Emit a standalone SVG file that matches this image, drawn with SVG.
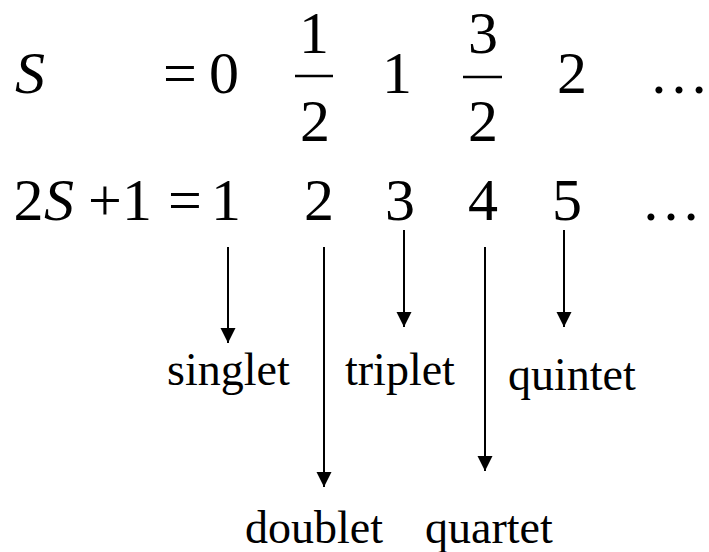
<svg xmlns="http://www.w3.org/2000/svg" width="709" height="552" viewBox="0 0 709 552">
<defs>
<style>
.m{font-size:60px;fill:#000;text-anchor:middle}
.i{font-style:italic}
.l{font-size:46px;fill:#000}
.bar{stroke:#000;stroke-width:2.5}
.c{stroke:#000;stroke-width:2;fill:none}
</style>
<marker id="ah" markerUnits="userSpaceOnUse" markerWidth="16" markerHeight="16" viewBox="0 0 16 16" refX="15" refY="8" orient="auto">
<path d="M0,0.5 L15,8 L0,15.5 Z" fill="#000"/>
</marker>
</defs>
<rect width="709" height="552" fill="#fff"/>
<g id="row1" font-family="'Liberation Serif', 'Times New Roman', serif">
<text class="m i" x="30" y="93">S</text>
<text class="m" x="180" y="93">=</text>
<text class="m" x="224" y="93">0</text>
<text class="m" x="314" y="53">1</text>
<line class="bar" x1="295" y1="76" x2="333" y2="76"/>
<text class="m" x="315" y="141">2</text>
<text class="m" x="397" y="93">1</text>
<text class="m" x="483" y="53">3</text>
<line class="bar" x1="463" y1="77" x2="502" y2="77"/>
<text class="m" x="483" y="141">2</text>
<text class="m" x="572" y="93">2</text>
<text class="m" x="679" y="93">…</text>
</g>
<g id="row2" font-family="'Liberation Serif', 'Times New Roman', serif">
<text class="m" x="28.5" y="220">2</text>
<text class="m i" x="59" y="220">S</text>
<text class="m" x="105" y="220">+</text>
<text class="m" x="137" y="220">1</text>
<text class="m" x="185" y="220">=</text>
<text class="m" x="226" y="220">1</text>
<text class="m" x="319" y="220">2</text>
<text class="m" x="400" y="220">3</text>
<text class="m" x="483" y="220">4</text>
<text class="m" x="567" y="220">5</text>
<text class="m" x="671" y="220">…</text>
</g>
<g id="connectors" marker-end="url(#ah)">
<line class="c" x1="228" y1="247" x2="228" y2="343" marker-end="url(#ah)"/>
<line class="c" x1="324" y1="247" x2="324" y2="487" marker-end="url(#ah)"/>
<line class="c" x1="404" y1="230" x2="404" y2="327" marker-end="url(#ah)"/>
<line class="c" x1="485" y1="247" x2="485" y2="471" marker-end="url(#ah)"/>
<line class="c" x1="564" y1="230" x2="564" y2="327" marker-end="url(#ah)"/>
</g>
<g font-family="'Liberation Serif', 'Times New Roman', serif">
<g id="singlet"><text class="l" x="167" y="385">singlet</text></g>
<g id="triplet"><text class="l" x="345" y="385">triplet</text></g>
<g id="quintet"><text class="l" x="508" y="390">quintet</text></g>
<g id="doublet"><text class="l" x="245" y="543">doublet</text></g>
<g id="quartet"><text class="l" x="425" y="543">quartet</text></g>
</g>
</svg>
